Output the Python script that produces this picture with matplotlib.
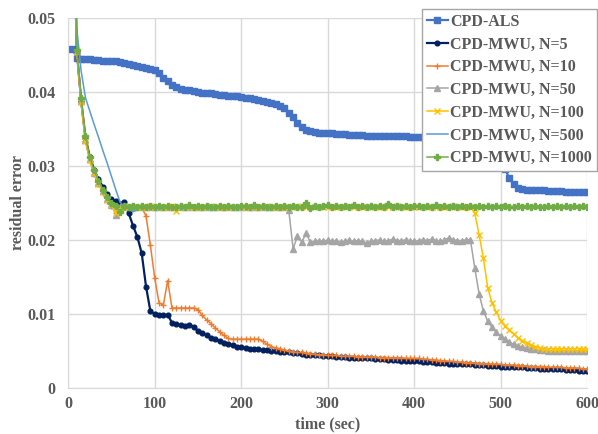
import numpy as np
import matplotlib
matplotlib.use("Agg")
import matplotlib.pyplot as plt

# Data (residual error sampled every 5 sec)
time_sec = np.arange(5, 605, 5)

labels = ['CPD-ALS', 'CPD-MWU, N=5', 'CPD-MWU, N=10', 'CPD-MWU, N=50',
          'CPD-MWU, N=100', 'CPD-MWU, N=500', 'CPD-MWU, N=1000']

als = [0.0458, 0.0446, 0.0445, 0.0444, 0.0444, 0.0443, 0.0443, 0.0442, 0.0442, 0.0441,
       0.0441, 0.0440, 0.0439, 0.0438, 0.0436, 0.0435, 0.0434, 0.0432, 0.0431, 0.0429,
       0.0425, 0.0419, 0.0414, 0.0409, 0.0406, 0.0404, 0.0403, 0.0402, 0.0401, 0.0400,
       0.0399, 0.0398, 0.0398, 0.0397, 0.0396, 0.0396, 0.0395, 0.0394, 0.0394, 0.0393,
       0.0392, 0.0391, 0.0390, 0.0389, 0.0388, 0.0386, 0.0385, 0.0383, 0.0381, 0.0378,
       0.0372, 0.0366, 0.0358, 0.0352, 0.0349, 0.0347, 0.0346, 0.0345, 0.0345, 0.0344,
       0.0344, 0.0343, 0.0343, 0.0343, 0.0342, 0.0342, 0.0342, 0.0342, 0.0341, 0.0341,
       0.0341, 0.0341, 0.0341, 0.0340, 0.0340, 0.0340, 0.0340, 0.0340, 0.0339, 0.0339,
       0.0339, 0.0339, 0.0338, 0.0338, 0.0338, 0.0338, 0.0337, 0.0337, 0.0337, 0.0337,
       0.0336, 0.0336, 0.0336, 0.0336, 0.0335, 0.0335, 0.0335, 0.0334, 0.0334, 0.0320,
       0.0296, 0.0283, 0.0275, 0.0270, 0.0269, 0.0268, 0.0268, 0.0267, 0.0267, 0.0267,
       0.0266, 0.0266, 0.0266, 0.0266, 0.0265, 0.0265, 0.0265, 0.0265, 0.0265, 0.0265]

mwu_n5 = [0.0700, 0.0455, 0.0388, 0.0338, 0.0312, 0.0295, 0.0282, 0.0272, 0.0262, 0.0255,
          0.0252, 0.0249, 0.0251, 0.0236, 0.0219, 0.0204, 0.0182, 0.0137, 0.0104, 0.0100,
          0.0099, 0.0098, 0.0099, 0.0088, 0.0086, 0.0085, 0.0084, 0.0085, 0.0083, 0.0077,
          0.0074, 0.0071, 0.0068, 0.0066, 0.0063, 0.0061, 0.0059, 0.0058, 0.0056, 0.0055,
          0.0054, 0.0053, 0.0052, 0.0052, 0.0051, 0.0051, 0.0050, 0.0050, 0.0049, 0.0049,
          0.0048, 0.0047, 0.0047, 0.0046, 0.0045, 0.0045, 0.0044, 0.0044, 0.0043, 0.0043,
          0.0043, 0.0042, 0.0042, 0.0042, 0.0041, 0.0041, 0.0041, 0.0040, 0.0040, 0.0040,
          0.0039, 0.0039, 0.0039, 0.0038, 0.0038, 0.0038, 0.0037, 0.0037, 0.0036, 0.0036,
          0.0036, 0.0035, 0.0035, 0.0035, 0.0034, 0.0034, 0.0034, 0.0033, 0.0033, 0.0033,
          0.0032, 0.0032, 0.0032, 0.0031, 0.0031, 0.0031, 0.0030, 0.0030, 0.0030, 0.0029,
          0.0029, 0.0029, 0.0028, 0.0028, 0.0028, 0.0027, 0.0027, 0.0027, 0.0026, 0.0026,
          0.0026, 0.0025, 0.0025, 0.0025, 0.0024, 0.0024, 0.0024, 0.0023, 0.0023, 0.0023]

mwu_n10 = [0.0700, 0.0453, 0.0385, 0.0333, 0.0307, 0.0289, 0.0276, 0.0264, 0.0253, 0.0246,
           0.0237, 0.0245, 0.0245, 0.0244, 0.0245, 0.0245, 0.0244, 0.0232, 0.0193, 0.0149,
           0.0115, 0.0112, 0.0145, 0.0108, 0.0108, 0.0108, 0.0108, 0.0108, 0.0108, 0.0106,
           0.0098, 0.0092, 0.0087, 0.0081, 0.0076, 0.0071, 0.0067, 0.0066, 0.0066, 0.0066,
           0.0066, 0.0066, 0.0066, 0.0066, 0.0063, 0.0059, 0.0056, 0.0054, 0.0053, 0.0051,
           0.0050, 0.0049, 0.0048, 0.0048, 0.0047, 0.0046, 0.0046, 0.0045, 0.0045, 0.0044,
           0.0044, 0.0044, 0.0043, 0.0043, 0.0043, 0.0043, 0.0042, 0.0042, 0.0042, 0.0042,
           0.0042, 0.0041, 0.0041, 0.0041, 0.0041, 0.0041, 0.0041, 0.0040, 0.0040, 0.0040,
           0.0040, 0.0039, 0.0039, 0.0038, 0.0038, 0.0037, 0.0037, 0.0036, 0.0036, 0.0035,
           0.0035, 0.0034, 0.0034, 0.0034, 0.0033, 0.0033, 0.0033, 0.0032, 0.0032, 0.0032,
           0.0031, 0.0031, 0.0031, 0.0030, 0.0030, 0.0030, 0.0029, 0.0029, 0.0029, 0.0029,
           0.0028, 0.0028, 0.0028, 0.0028, 0.0027, 0.0027, 0.0027, 0.0027, 0.0026, 0.0026]

mwu_n50 = [0.0700, 0.0455, 0.0387, 0.0335, 0.0309, 0.0290, 0.0277, 0.0266, 0.0255, 0.0247,
           0.0234, 0.0244, 0.0245, 0.0244, 0.0245, 0.0244, 0.0245, 0.0244, 0.0245, 0.0245,
           0.0244, 0.0245, 0.0244, 0.0245, 0.0244, 0.0245, 0.0244, 0.0244, 0.0245, 0.0244,
           0.0245, 0.0244, 0.0245, 0.0244, 0.0245, 0.0244, 0.0244, 0.0245, 0.0244, 0.0245,
           0.0244, 0.0245, 0.0244, 0.0245, 0.0244, 0.0244, 0.0245, 0.0244, 0.0244, 0.0244,
           0.0240, 0.0188, 0.0205, 0.0197, 0.0209, 0.0197, 0.0198, 0.0199, 0.0198, 0.0200,
           0.0198, 0.0199, 0.0197, 0.0198, 0.0200, 0.0198, 0.0199, 0.0198, 0.0196, 0.0198,
           0.0199, 0.0200, 0.0198, 0.0199, 0.0201, 0.0199, 0.0199, 0.0200, 0.0199, 0.0198,
           0.0199, 0.0200, 0.0199, 0.0201, 0.0199, 0.0198, 0.0200, 0.0203, 0.0200, 0.0199,
           0.0199, 0.0200, 0.0200, 0.0162, 0.0127, 0.0104, 0.0090, 0.0082, 0.0075, 0.0070,
           0.0066, 0.0062, 0.0059, 0.0057, 0.0055, 0.0054, 0.0053, 0.0052, 0.0051, 0.0051,
           0.0050, 0.0050, 0.0050, 0.0050, 0.0050, 0.0050, 0.0050, 0.0050, 0.0050, 0.0050]

mwu_n100 = [0.0700, 0.0454, 0.0386, 0.0334, 0.0308, 0.0290, 0.0276, 0.0265, 0.0254, 0.0247,
            0.0236, 0.0245, 0.0244, 0.0246, 0.0244, 0.0245, 0.0245, 0.0244, 0.0246, 0.0245,
            0.0245, 0.0244, 0.0245, 0.0246, 0.0239, 0.0245, 0.0245, 0.0244, 0.0245, 0.0245,
            0.0244, 0.0245, 0.0246, 0.0244, 0.0245, 0.0244, 0.0245, 0.0245, 0.0244, 0.0245,
            0.0245, 0.0244, 0.0245, 0.0244, 0.0245, 0.0246, 0.0244, 0.0245, 0.0245, 0.0244,
            0.0245, 0.0244, 0.0245, 0.0246, 0.0244, 0.0245, 0.0245, 0.0244, 0.0245, 0.0244,
            0.0245, 0.0245, 0.0244, 0.0245, 0.0246, 0.0244, 0.0245, 0.0244, 0.0245, 0.0245,
            0.0244, 0.0245, 0.0245, 0.0244, 0.0245, 0.0246, 0.0244, 0.0245, 0.0244, 0.0245,
            0.0245, 0.0244, 0.0245, 0.0245, 0.0244, 0.0245, 0.0244, 0.0245, 0.0246, 0.0244,
            0.0245, 0.0244, 0.0245, 0.0236, 0.0207, 0.0175, 0.0135, 0.0115, 0.0102, 0.0091,
            0.0084, 0.0078, 0.0073, 0.0068, 0.0064, 0.0061, 0.0058, 0.0056, 0.0054, 0.0053,
            0.0053, 0.0053, 0.0053, 0.0053, 0.0053, 0.0053, 0.0053, 0.0053, 0.0053, 0.0053]

mwu_n500 = [0.0800, 0.0485, 0.0428, 0.0392, 0.0374, 0.0356, 0.0339, 0.0321, 0.0304, 0.0286,
            0.0268, 0.0251, 0.0245, 0.0244, 0.0238, 0.0241, 0.0245, 0.0244, 0.0245, 0.0244,
            0.0244, 0.0245, 0.0244, 0.0244, 0.0245, 0.0244, 0.0244, 0.0245, 0.0244, 0.0244,
            0.0245, 0.0244, 0.0244, 0.0245, 0.0244, 0.0244, 0.0245, 0.0244, 0.0244, 0.0245,
            0.0244, 0.0244, 0.0245, 0.0244, 0.0244, 0.0245, 0.0244, 0.0244, 0.0245, 0.0244,
            0.0244, 0.0245, 0.0244, 0.0244, 0.0245, 0.0244, 0.0244, 0.0245, 0.0244, 0.0244,
            0.0245, 0.0244, 0.0244, 0.0245, 0.0244, 0.0244, 0.0245, 0.0244, 0.0244, 0.0245,
            0.0244, 0.0244, 0.0245, 0.0244, 0.0244, 0.0245, 0.0244, 0.0244, 0.0245, 0.0244,
            0.0244, 0.0245, 0.0244, 0.0244, 0.0245, 0.0244, 0.0244, 0.0245, 0.0244, 0.0244,
            0.0248, 0.0244, 0.0244, 0.0245, 0.0244, 0.0244, 0.0245, 0.0244, 0.0244, 0.0245,
            0.0249, 0.0244, 0.0245, 0.0244, 0.0244, 0.0245, 0.0244, 0.0244, 0.0245, 0.0244,
            0.0244, 0.0245, 0.0244, 0.0244, 0.0245, 0.0244, 0.0244, 0.0245, 0.0244, 0.0244]

mwu_n1000 = [0.0700, 0.0456, 0.0392, 0.0340, 0.0312, 0.0294, 0.0280, 0.0268, 0.0258, 0.0250,
             0.0246, 0.0238, 0.0246, 0.0245, 0.0246, 0.0245, 0.0246, 0.0245, 0.0246, 0.0245,
             0.0246, 0.0245, 0.0246, 0.0245, 0.0245, 0.0246, 0.0245, 0.0247, 0.0245, 0.0246,
             0.0245, 0.0246, 0.0245, 0.0245, 0.0246, 0.0245, 0.0246, 0.0245, 0.0245, 0.0246,
             0.0246, 0.0245, 0.0247, 0.0245, 0.0246, 0.0245, 0.0245, 0.0246, 0.0245, 0.0246,
             0.0245, 0.0246, 0.0245, 0.0245, 0.0250, 0.0243, 0.0246, 0.0245, 0.0246, 0.0247,
             0.0245, 0.0246, 0.0245, 0.0246, 0.0245, 0.0247, 0.0245, 0.0246, 0.0244, 0.0246,
             0.0245, 0.0246, 0.0245, 0.0248, 0.0245, 0.0246, 0.0245, 0.0246, 0.0245, 0.0246,
             0.0246, 0.0245, 0.0246, 0.0245, 0.0247, 0.0245, 0.0246, 0.0245, 0.0246, 0.0245,
             0.0246, 0.0245, 0.0246, 0.0245, 0.0246, 0.0244, 0.0246, 0.0245, 0.0246, 0.0245,
             0.0246, 0.0245, 0.0245, 0.0246, 0.0245, 0.0246, 0.0245, 0.0246, 0.0245, 0.0245,
             0.0246, 0.0245, 0.0246, 0.0245, 0.0246, 0.0245, 0.0246, 0.0245, 0.0246, 0.0245]

# Styling
text_color = '#595959'
grid_color = '#D9D9D9'
plt.rcParams['font.family'] = 'Liberation Serif'
plt.rcParams['font.weight'] = 'bold'
plt.rcParams['axes.labelweight'] = 'bold'
plt.rcParams['font.size'] = 11.5

fig = plt.figure(figsize=(5.98, 4.34), dpi=100)
ax = fig.add_axes([0.114, 0.106, 0.868, 0.853])

series = [als, mwu_n5, mwu_n10, mwu_n50, mwu_n100, mwu_n500, mwu_n1000]
colors = ['#4472C4', '#002060', '#ED7D31', '#A5A5A5', '#FFC000', '#5B9BD5', '#70AD47']
markers = ['s', 'o', '+', '^', 'x', None, 'P']
msizes = [3.8, 3.4, 4.5, 3.8, 4.0, 0, 3.8]
lwidths = [1.6, 1.6, 1.1, 1.1, 1.1, 1.1, 1.1]

for y, lab, c, m, ms, lw in zip(series, labels, colors, markers, msizes, lwidths):
    ax.plot(time_sec, y, color=c, marker=m, markersize=ms, linewidth=lw,
            markeredgewidth=1.0, label=lab)

ax.set_xlim(0, 600)
ax.set_ylim(0, 0.05)
ax.set_xticks(np.arange(0, 601, 100))
ax.set_yticks([0, 0.01, 0.02, 0.03, 0.04, 0.05])
ax.set_yticklabels(['0', '0.01', '0.02', '0.03', '0.04', '0.05'])
ax.grid(True, color=grid_color, linewidth=1.0)
ax.set_axisbelow(True)
for s in ['top', 'right']:
    ax.spines[s].set_visible(False)
for s in ['left', 'bottom']:
    ax.spines[s].set_color(grid_color)
ax.tick_params(length=0, colors=text_color)
ax.tick_params(axis='y', pad=9)
ax.tick_params(axis='x', pad=6)

ax.set_xlabel('time (sec)', color=text_color, fontweight='bold', labelpad=3)
ax.set_ylabel('residual error', color=text_color, fontweight='bold', labelpad=1)

leg = ax.legend(loc='upper right', bbox_to_anchor=(0.998, 0.979), bbox_transform=fig.transFigure,
                borderaxespad=0, fancybox=False, framealpha=1, edgecolor='#A6A6A6',
                handlelength=1.3, handletextpad=0.15, labelspacing=0.42, borderpad=0.3)
for t in leg.get_texts():
    t.set_color(text_color)

fig.savefig('out.png', dpi=100)
